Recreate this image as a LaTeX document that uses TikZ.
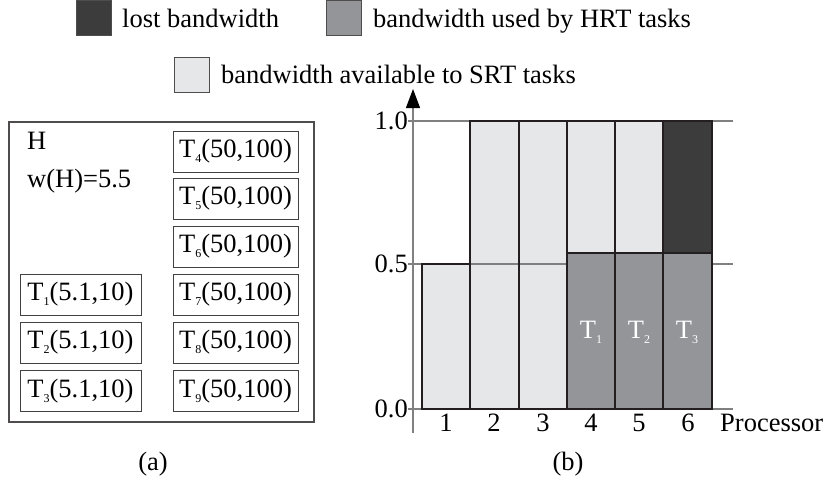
\documentclass[tikz,border=0pt]{standalone}
\usepackage{fontspec}
\setmainfont{Liberation Serif}
\usetikzlibrary{arrows.meta}
\definecolor{lostc}{HTML}{3C3C3C}
\definecolor{hrtc}{HTML}{939598}
\definecolor{srtc}{HTML}{E6E7E8}
\definecolor{edgec}{HTML}{231F20}
\definecolor{gridc}{HTML}{808080}
\newcommand{\tsub}[1]{\raisebox{-0.4ex}{\fontsize{12}{12}\selectfont #1}}
\begin{document}
\begin{tikzpicture}[x=1pt,y=-1pt,
  font=\fontsize{26.5}{28}\selectfont,
  every node/.style={inner sep=0pt},
  legendbox/.style={draw=edgec!80, line width=1pt, minimum width=35pt, minimum height=35pt},
  taskbox/.style={draw=edgec!85, line width=1pt, minimum height=41pt},
  lefttask/.style={taskbox, minimum width=121pt},
  righttask/.style={taskbox, minimum width=125pt},
  barline/.style={draw=edgec, line width=2.4pt, line join=miter},
  gridline/.style={draw=gridc, line width=1.2pt},
  caption/.style={anchor=center}]
\useasboundingbox (0,0) rectangle (824,487);

% ---- legend ----
\node[legendbox, fill=lostc] (lostbox) at (93.5,18.5) {};
\node[anchor=base west] (losttxt) at (122,28) {lost bandwidth};
\node[legendbox, fill=hrtc] (hrtbox) at (343.5,18.5) {};
\node[anchor=base west] (hrttxt) at (373,28) {bandwidth used by HRT tasks};
\node[legendbox, fill=srtc] (srtbox) at (191.5,75) {};
\node[anchor=base west] (srttxt) at (221,83) {bandwidth available to SRT tasks};

% ---- (a) task set ----
\draw[draw=edgec!80, line width=1.3pt] (9,122) rectangle (314,422);
\node[anchor=west] (hname) at (27,141) {H};
\node[anchor=west] (hweight) at (27,181) {w(H)=5.5};
\node[righttask] (t4) at (235.5,151.5) {T\tsub{4}(50,100)};
\node[righttask] (t5) at (235.5,198.5) {T\tsub{5}(50,100)};
\node[righttask] (t6) at (235.5,246.5) {T\tsub{6}(50,100)};
\node[righttask] (t7) at (235.5,294.5) {T\tsub{7}(50,100)};
\node[righttask] (t8) at (235.5,342.5) {T\tsub{8}(50,100)};
\node[righttask] (t9) at (235.5,391) {T\tsub{9}(50,100)};
\node[lefttask] (t1) at (80.5,294.5) {T\tsub{1}(5.1,10)};
\node[lefttask] (t2) at (80.5,342.5) {T\tsub{2}(5.1,10)};
\node[lefttask] (t3) at (80.5,391) {T\tsub{3}(5.1,10)};
\node[caption] (capa) at (153,464) {(a)};

% ---- (b) bandwidth per processor ----
% light (SRT) parts
\fill[srtc] (422,409) rectangle (470,264);
\fill[srtc] (470,409) rectangle (567,121);
\fill[srtc] (567,253) rectangle (663,121);
% grid lines and axes
\draw[gridline] (408,121) -- (733,121);
\draw[gridline] (408,264) -- (733,264);
\draw[gridline] (408,409) -- (733,409);
\coordinate (yaxbot) at (413,433);
\coordinate (yaxtop) at (413,89);
\draw[gridline, -{Triangle[length=19pt,width=14pt,color=black]}] (yaxbot) -- (yaxtop);
% HRT and lost parts
\fill[hrtc] (567,409) rectangle (712,253);
\fill[lostc] (663,253) rectangle (712,121);
% bar outlines
\draw[barline] (422,409) rectangle (470,264);
\draw[barline] (470,409) rectangle (519,121);
\draw[barline] (519,409) rectangle (567,121);
\draw[barline] (567,409) rectangle (615,253);
\draw[barline] (615,409) rectangle (663,253);
\draw[barline] (663,409) rectangle (712,253);
\draw[barline] (567,253) rectangle (615,121);
\draw[barline] (615,253) rectangle (663,121);
\draw[barline] (663,253) rectangle (712,121);
% task labels inside the HRT bars
\node[text=white] (b1) at (591,332) {T\tsub{1}};
\node[text=white] (b2) at (639,332) {T\tsub{2}};
\node[text=white] (b3) at (687,332) {T\tsub{3}};
% tick labels
\node[anchor=east] (ylab10) at (408,121) {1.0};
\node[anchor=east] (ylab05) at (408,264) {0.5};
\node[anchor=east] (ylab00) at (408,409) {0.0};
\node (xl1) at (446,423) {1};
\node (xl2) at (494,423) {2};
\node (xl3) at (543,423) {3};
\node (xl4) at (591,423) {4};
\node (xl5) at (639,423) {5};
\node (xl6) at (688,423) {6};
\node[anchor=west] (xname) at (720,423) {Processor};
\node[caption] (capb) at (568,464) {(b)};
\end{tikzpicture}
\end{document}
